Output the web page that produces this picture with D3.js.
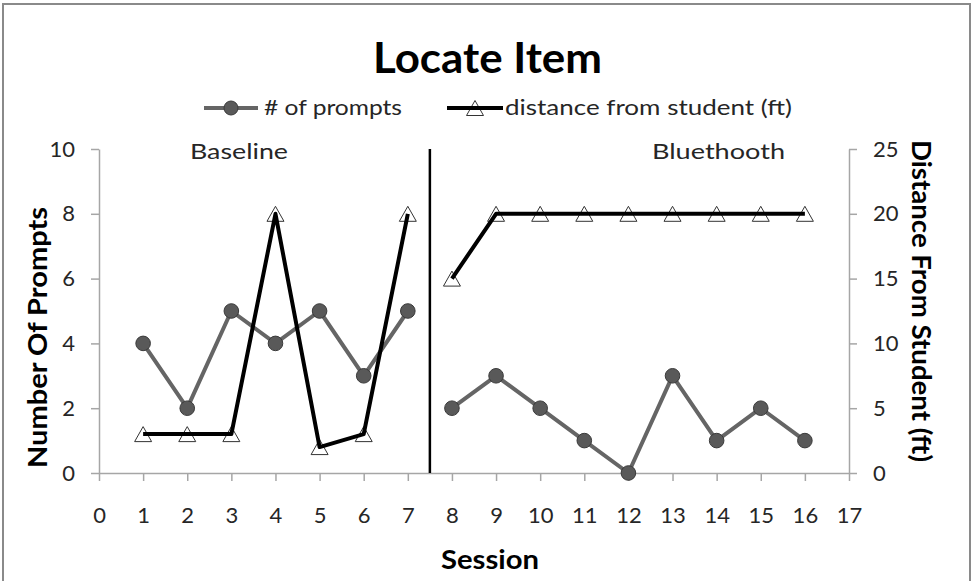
<!DOCTYPE html>
<html>
<head>
<meta charset="utf-8">
<script src="https://cdn.jsdelivr.net/npm/d3@7"></script>
<style>
  html, body { margin: 0; padding: 0; background: #fff; }
  svg { display: block; }
  text { font-family: Lato, "Open Sans", sans-serif; }
</style>
</head>
<body>
<svg id="chart" width="974" height="581"></svg>
<script>
// ---- data ----
const title = "Locate Item";
const sessionsBaseline = [1, 2, 3, 4, 5, 6, 7];
const sessionsTreatment = [8, 9, 10, 11, 12, 13, 14, 15, 16];
const promptsBaseline = [4, 2, 5, 4, 5, 3, 5];
const promptsTreatment = [2, 3, 2, 1, 0, 3, 1, 2, 1];
const distanceBaseline = [3, 3, 3, 20, 2, 3, 20];
const distanceTreatment = [15, 20, 20, 20, 20, 20, 20, 20, 20];
const xTicks = [0, 1, 2, 3, 4, 5, 6, 7, 8, 9, 10, 11, 12, 13, 14, 15, 16, 17];
const yLeftTicks = [0, 2, 4, 6, 8, 10];
const yRightTicks = [0, 5, 10, 15, 20, 25];
const phaseChange = 7.5;
const phaseLabels = ["Baseline", "Bluethooth"];
const seriesNames = ["# of prompts", "distance from student (ft)"];
const xTitle = "Session";
const yLeftTitle = "Number Of Prompts";
const yRightTitle = "Distance From Student (ft)";

// ---- layout ----
const svg = d3.select("#chart");
const x = d3.scaleLinear().domain([0, 17]).range([99, 849]);
const yL = d3.scaleLinear().domain([0, 10]).range([473, 149]);
const yR = d3.scaleLinear().domain([0, 25]).range([473, 149]);

const axisColor = "#a6a6a6";
const textColor = "#262626";
const grayLine = "#656565";
const circleFill = "#595959";

// border
svg.append("rect").attr("x", 3).attr("y", 4).attr("width", 967).attr("height", 580)
  .attr("fill", "#fff").attr("stroke", "#8a8a8a").attr("stroke-width", 2);

function fitText(sel, w) {
  sel.attr("textLength", w).attr("lengthAdjust", "spacingAndGlyphs");
}

// title
svg.append("text").attr("x", 487.5).attr("y", 73).attr("text-anchor", "middle")
  .attr("font-size", 42).attr("font-weight", "bold").attr("fill", "#000")
  .text(title).call(fitText, 229);

// axes
const styleAxis = g => {
  g.select(".domain").attr("stroke", axisColor).attr("stroke-width", 1.5);
  g.selectAll(".tick line").attr("stroke", axisColor).attr("stroke-width", 1.5);
  g.selectAll(".tick text").attr("fill", textColor).attr("font-size", 22)
    .attr("font-family", "Lato, 'Open Sans', sans-serif");
};

const gx = svg.append("g").attr("transform", "translate(0,473)")
  .call(d3.axisBottom(x).tickValues(xTicks).tickSizeInner(8).tickSizeOuter(0).tickPadding(26).tickFormat(d3.format("d")));
styleAxis(gx);

const gyl = svg.append("g").attr("transform", "translate(99,0)")
  .call(d3.axisLeft(yL).tickValues(yLeftTicks).tickSizeInner(8).tickSizeOuter(0).tickPadding(16).tickFormat(d3.format("d")));
styleAxis(gyl);

const gyr = svg.append("g").attr("transform", "translate(849,0)")
  .call(d3.axisRight(yR).tickValues(yRightTicks).tickSizeInner(8).tickSizeOuter(0).tickPadding(16).tickFormat(d3.format("d")));
styleAxis(gyr);

// phase change line
svg.append("line").attr("x1", x(phaseChange)).attr("x2", x(phaseChange))
  .attr("y1", yL(10)).attr("y2", yL(0))
  .attr("stroke", "#000").attr("stroke-width", 2.5);

// phase labels
svg.append("text").attr("x", 239).attr("y", 159).attr("text-anchor", "middle")
  .attr("font-size", 22).attr("fill", textColor).text(phaseLabels[0]).call(fitText, 98);
svg.append("text").attr("x", 718.5).attr("y", 159).attr("text-anchor", "middle")
  .attr("font-size", 22).attr("fill", textColor).text(phaseLabels[1]).call(fitText, 133);

// axis titles
svg.append("text").attr("x", 490).attr("y", 569).attr("text-anchor", "middle")
  .attr("font-size", 27).attr("font-weight", "bold").attr("fill", "#000")
  .text(xTitle).call(fitText, 98);
svg.append("text").attr("transform", "translate(47,337.5) rotate(-90)").attr("text-anchor", "middle")
  .attr("font-size", 27).attr("font-weight", "bold").attr("fill", "#000")
  .text(yLeftTitle).call(fitText, 261);
svg.append("text").attr("transform", "translate(912,301) rotate(90)").attr("text-anchor", "middle")
  .attr("font-size", 27).attr("font-weight", "bold").attr("fill", "#000")
  .text(yRightTitle).call(fitText, 322);

// series
const toPts = (xs, ys) => xs.map((s, i) => ({ s, v: ys[i] }));
const promptSegs = [toPts(sessionsBaseline, promptsBaseline), toPts(sessionsTreatment, promptsTreatment)];
const distSegs = [toPts(sessionsBaseline, distanceBaseline), toPts(sessionsTreatment, distanceTreatment)];

const lineL = d3.line().x(d => x(d.s)).y(d => yL(d.v));
const lineR = d3.line().x(d => x(d.s)).y(d => yR(d.v));

const triPath = "M0,-7.5L8.5,7.5L-8.5,7.5Z";

// prompts series
promptSegs.forEach(seg => {
  svg.append("path").datum(seg).attr("d", lineL).attr("fill", "none")
    .attr("stroke", grayLine).attr("stroke-width", 4).attr("stroke-linejoin", "round");
});
promptSegs.forEach(seg => {
  svg.append("g").selectAll("circle").data(seg).join("circle")
    .attr("cx", d => x(d.s)).attr("cy", d => yL(d.v)).attr("r", 7.3)
    .attr("fill", circleFill).attr("stroke", "#3a3a3a").attr("stroke-width", 1);
});

// distance series
distSegs.forEach(seg => {
  svg.append("g").selectAll("path").data(seg).join("path")
    .attr("transform", d => `translate(${x(d.s)},${yR(d.v)})`)
    .attr("d", triPath).attr("fill", "#fff").attr("stroke", "#333").attr("stroke-width", 1);
});
distSegs.forEach(seg => {
  svg.append("path").datum(seg).attr("d", lineR).attr("fill", "none")
    .attr("stroke", "#000").attr("stroke-width", 4).attr("stroke-linejoin", "round");
});

// legend
const leg = svg.append("g");
leg.append("line").attr("x1", 204).attr("x2", 258).attr("y1", 108).attr("y2", 108)
  .attr("stroke", grayLine).attr("stroke-width", 4);
leg.append("circle").attr("cx", 231).attr("cy", 108).attr("r", 7)
  .attr("fill", circleFill).attr("stroke", "#3a3a3a").attr("stroke-width", 1);
leg.append("text").attr("x", 264).attr("y", 115).attr("font-size", 21).attr("fill", textColor)
  .text(seriesNames[0]).call(fitText, 138);
leg.append("path").attr("transform", "translate(475,108)").attr("d", triPath)
  .attr("fill", "#fff").attr("stroke", "#333").attr("stroke-width", 1);
leg.append("line").attr("x1", 447).attr("x2", 503).attr("y1", 108).attr("y2", 108)
  .attr("stroke", "#000").attr("stroke-width", 4);
leg.append("text").attr("x", 505).attr("y", 115).attr("font-size", 21).attr("fill", textColor)
  .text(seriesNames[1]).call(fitText, 287);
</script>
</body>
</html>
